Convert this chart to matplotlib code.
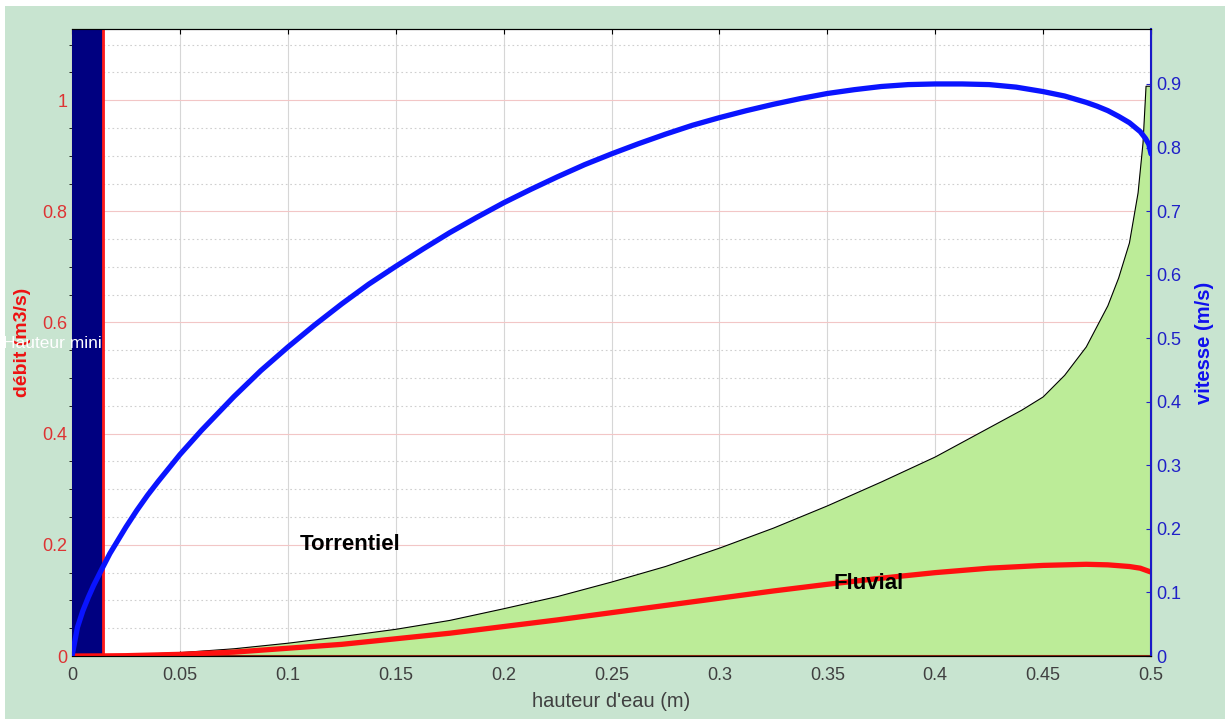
import matplotlib.pyplot as plt
import matplotlib.patches as mpatches

plt.rcParams['font.family'] = ['Liberation Sans', 'DejaVu Sans']

# hauteur d'eau (m) et débit (m3/s) -- axe de gauche
h_q = [0, 0.014, 0.025, 0.05, 0.075, 0.1, 0.125, 0.15, 0.175, 0.2, 0.225, 0.25,
       0.275, 0.3, 0.325, 0.35, 0.375, 0.4, 0.425, 0.45, 0.47, 0.48, 0.49, 0.495, 0.5]
debit = [0, 0.0002, 0.0006, 0.003, 0.007, 0.014, 0.021, 0.031, 0.041, 0.053, 0.065, 0.078,
         0.091, 0.104, 0.117, 0.129, 0.140, 0.150, 0.158, 0.163, 0.165, 0.164, 0.161, 0.158, 0.151]

# limite torrentiel / fluvial (débit critique)
h_c = [0, 0.025, 0.05, 0.075, 0.1, 0.125, 0.15, 0.175, 0.2, 0.225, 0.25, 0.275, 0.3,
       0.325, 0.35, 0.375, 0.4, 0.42, 0.44, 0.45, 0.46, 0.47, 0.48, 0.485, 0.49,
       0.494, 0.4963, 0.4977, 0.5]
debit_crit = [0, 0.002, 0.006, 0.013, 0.023, 0.035, 0.048, 0.064, 0.085, 0.107, 0.133, 0.161, 0.194,
              0.230, 0.270, 0.313, 0.358, 0.400, 0.442, 0.466, 0.505, 0.556, 0.63, 0.68, 0.743,
              0.833, 0.923, 1.025, 1.025]

# vitesse (m/s) -- axe de droite
h_v = [0, 0.0025, 0.005, 0.0075, 0.01, 0.014, 0.0175, 0.02, 0.025, 0.03, 0.035, 0.04, 0.05,
       0.06, 0.075, 0.0875, 0.1, 0.1125, 0.125, 0.1375, 0.15, 0.1625, 0.175, 0.1875, 0.2,
       0.2125, 0.225, 0.2375, 0.25, 0.2625, 0.275, 0.2875, 0.3, 0.3125, 0.325, 0.3375, 0.35,
       0.3625, 0.375, 0.3875, 0.4, 0.4125, 0.425, 0.4375, 0.45, 0.46, 0.47, 0.475, 0.48,
       0.485, 0.49, 0.495, 0.4975, 0.499, 0.5]
vitesse = [0, 0.045, 0.071, 0.092, 0.111, 0.138, 0.161, 0.175, 0.203, 0.229, 0.253, 0.275, 0.317,
           0.355, 0.408, 0.449, 0.486, 0.521, 0.554, 0.585, 0.613, 0.640, 0.666, 0.690, 0.713,
           0.734, 0.754, 0.773, 0.790, 0.806, 0.821, 0.835, 0.847, 0.858, 0.868, 0.877, 0.885,
           0.891, 0.896, 0.899, 0.900, 0.900, 0.899, 0.895, 0.888, 0.881, 0.871, 0.865, 0.858,
           0.849, 0.839, 0.825, 0.814, 0.805, 0.790]

x_ticks = [0, 0.05, 0.1, 0.15, 0.2, 0.25, 0.3, 0.35, 0.4, 0.45, 0.5]
x_labels = ['0', '0.05', '0.1', '0.15', '0.2', '0.25', '0.3', '0.35', '0.4', '0.45', '0.5']
q_ticks = [0, 0.2, 0.4, 0.6, 0.8, 1.0]
q_labels = ['0', '0.2', '0.4', '0.6', '0.8', '1']
q_minor = [0.05, 0.1, 0.15, 0.25, 0.3, 0.35, 0.45, 0.5, 0.55, 0.65, 0.7, 0.75, 0.85, 0.9, 0.95, 1.05, 1.1]
v_ticks = [0, 0.1, 0.2, 0.3, 0.4, 0.5, 0.6, 0.7, 0.8, 0.9]
v_labels = ['0', '0.1', '0.2', '0.3', '0.4', '0.5', '0.6', '0.7', '0.8', '0.9']

h_mini = 0.0144

fig = plt.figure(figsize=(12.25, 7.19), dpi=100, facecolor='white')
fig.patches.append(mpatches.Rectangle((0.004, 0.0), 0.996, 0.991, transform=fig.transFigure,
                                      facecolor='#c8e4d0', edgecolor='none', zorder=-10))
ax = fig.add_axes([0.0588, 0.0876, 0.8808, 0.8721])
ax.set_facecolor('white')

ax.set_xlim(0, 0.5)
ax.set_ylim(0, 1.128)
ax.set_xticks(x_ticks)
ax.set_xticklabels(x_labels)
ax.set_yticks(q_ticks)
ax.set_yticklabels(q_labels)
ax.set_yticks(q_minor, minor=True)
ax.grid(axis='x', which='major', color='#d6d6d6', lw=0.8)
ax.grid(axis='y', which='major', color='#f2c6c6', lw=0.8)
ax.grid(axis='y', which='minor', color='#cfcfcf', lw=0.8, ls=(0, (1.5, 2.5)))
ax.set_axisbelow(True)

ax.fill_between(h_c, debit_crit, 0, color='#bcec98', zorder=1)
ax.plot(h_c, debit_crit, color='black', lw=0.8, zorder=2)
ax.axvspan(0, h_mini, color='#000080', zorder=3)
ax.axvline(h_mini, color='#ff1a1a', lw=2, zorder=4)
ax.plot(h_q, debit, color='#ff1010', lw=3.8, zorder=5)
ax.axhline(0, color='#8a2a10', lw=1.5, zorder=4)

ax.text(-0.0093, 0.563, 'Hauteur mini', color='white', fontsize=12.5, ha='center', va='center',
        clip_on=False, zorder=6)
ax.text(0.1288, 0.2, 'Torrentiel', fontsize=16, fontweight='bold', ha='center', va='center', zorder=6)
ax.text(0.369, 0.13, 'Fluvial', fontsize=16, fontweight='bold', ha='center', va='center', zorder=6)

ax.tick_params(axis='x', direction='in', top=True, labelsize=13, labelcolor='#404040', pad=8)
ax.tick_params(axis='y', which='major', direction='in', colors='#dd3333', labelsize=13)
ax.tick_params(axis='y', which='minor', left=False)
ax.spines['left'].set_color('#dd3333')
ax.spines['bottom'].set_color('#8a2a10')
ax.set_xlabel("hauteur d'eau (m)", fontsize=14.5, color='#404040', labelpad=6)
ax.set_ylabel('débit (m3/s)', fontsize=14, fontweight='bold', color='#ee1111', labelpad=8)

ax2 = ax.twinx()
ax2.set_ylim(0, 0.9865)
ax2.set_yticks(v_ticks)
ax2.set_yticklabels(v_labels)
ax2.plot(h_v, vitesse, color='#0a14ff', lw=3.8, solid_capstyle='round', zorder=5)
ax2.tick_params(axis='y', direction='in', colors='#2020c8', labelsize=13)
ax2.spines['right'].set_color('#1a1ac8')
ax2.spines['right'].set_linewidth(1.5)
ax2.spines['left'].set_visible(False)
ax2.set_ylabel('vitesse (m/s)', fontsize=14.5, fontweight='bold', color='#1010ee', labelpad=10)

fig.savefig('out.png', dpi=100, facecolor=fig.get_facecolor())
